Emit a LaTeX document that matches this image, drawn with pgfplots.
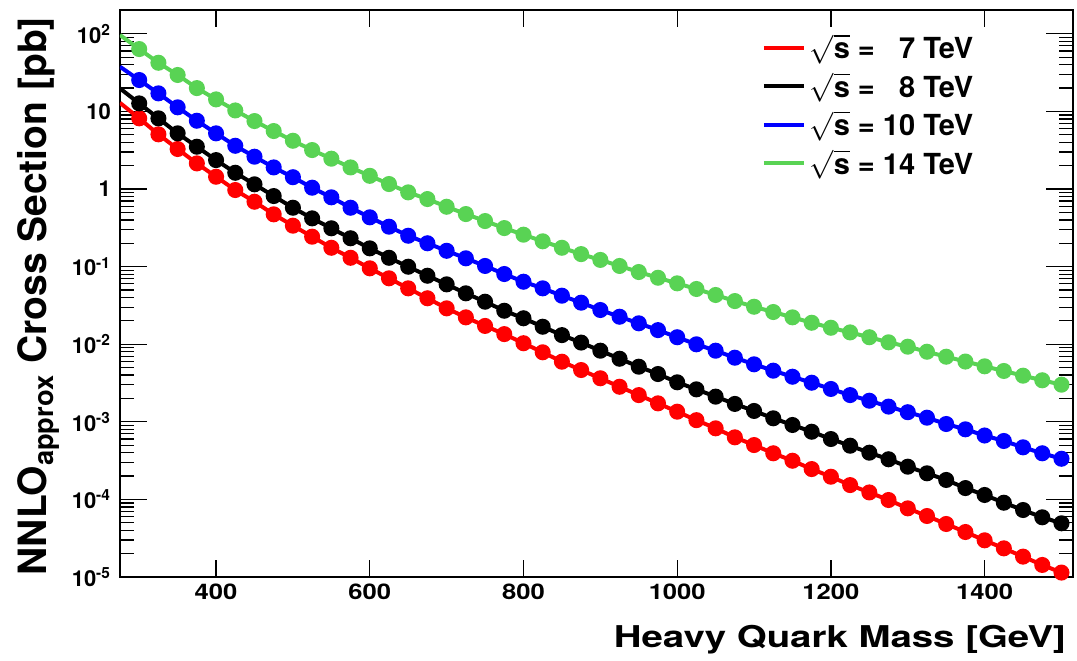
\documentclass[border=0pt]{standalone}
\usepackage{fontspec}
\setmainfont{TeX Gyre Heros}
\usepackage{graphicx}
\usepackage{pgfplots}
\usepackage{pgfplotstable}
\pgfplotsset{compat=1.18}

\definecolor{rootgreen}{RGB}{89,211,84}

% heavy quark mass [GeV], cross section [pb] at 7, 8, 10, 14 TeV
\pgfplotstableread{
m     s7        s8        s10       s14
275   12.9      19.8      37.7      96.6
300   8.15      12.7      25.4      63.7
325   5.07      8.15      17.1      42.4
350   3.28      5.22      11.3      29.5
375   2.14      3.51      7.59      20.0
400   1.44      2.36      5.22      14.3
425   0.971     1.62      3.61      10.3
450   0.686     1.15      2.61      7.52
475   0.472     0.812     1.90      5.59
500   0.337     0.574     1.42      4.19
525   0.243     0.419     1.04      3.18
550   0.175     0.312     0.782     2.46
575   0.130     0.232     0.574     1.90
600   0.0951    0.172     0.432     1.48
625   0.0707    0.130     0.327     1.16
650   0.0525    0.0997    0.250     0.906
675   0.0391    0.0763    0.200     0.743
700   0.0290    0.0591    0.160     0.591
725   0.0222    0.0453    0.128     0.476
750   0.0172    0.0353    0.102     0.387
775   0.0135    0.0270    0.0803    0.314
800   0.0103    0.0216    0.0639    0.258
825   0.00787   0.0168    0.0525    0.212
850   0.00595   0.0131    0.0422    0.175
875   0.00465   0.0105    0.0343    0.145
900   0.00364   0.00825   0.0276    0.122
925   0.00283   0.00650   0.0226    0.102
950   0.00221   0.00513   0.0186    0.0852
975   0.00173   0.00413   0.0152    0.0719
1000  0.00135   0.00323   0.0123    0.0609
1025  0.00105   0.00262   0.00997   0.0515
1050  0.000824  0.00211   0.00825   0.0431
1075  0.000631  0.00170   0.00670   0.0360
1100  0.000502  0.00138   0.00551   0.0304
1125  0.000393  0.00111   0.00456   0.0260
1150  0.000315  0.000910  0.00381   0.0222
1175  0.000246  0.000745  0.00319   0.0189
1200  0.000196  0.000600  0.00265   0.0163
1225  0.000153  0.000492  0.00221   0.0142
1250  0.000123  0.000400  0.00187   0.0123
1275  9.82e-5   0.000329  0.00157   0.01058
1300  7.67e-5   0.000264  0.00133   0.00929
1325  6.11e-5   0.000217  0.00113   0.00800
1350  4.82e-5   0.000178  0.000937  0.00690
1375  3.80e-5   0.000140  0.000800  0.00598
1400  2.97e-5   0.000114  0.000666  0.00519
1425  2.34e-5   9.06e-5   0.000566  0.00452
1450  1.83e-5   7.30e-5   0.000469  0.00393
1475  1.43e-5   5.88e-5   0.000393  0.00343
1500  1.14e-5   4.92e-5   0.000334  0.00301
}\xsec

\begin{document}
\begin{tikzpicture}
\begin{axis}[
  ymode=log,
  scale only axis,
  width=476.5pt, height=283.5pt,
  xmin=275, xmax=1515,
  ymin=1e-5, ymax=203,
  axis line style={line width=0.8pt},
  tick align=inside,
  tick style={black, line width=0.6pt},
  major tick length=13.5pt,
  minor tick length=7pt,
  xtick style={/pgfplots/major tick length=8.5pt},
  xtick={400,600,800,1000,1200,1400},
  xticklabels={\scalebox{1.19}[1]{400},\scalebox{1.19}[1]{600},\scalebox{1.19}[1]{800},
    \scalebox{1.19}[1]{1000},\scalebox{1.19}[1]{1200},\scalebox{1.19}[1]{1400}},
  minor xtick={},
  ytick={1e-5,1e-4,1e-3,1e-2,1e-1,1,10,100},
  yticklabels={10\textsuperscript{-5},10\textsuperscript{-4},10\textsuperscript{-3},
    10\textsuperscript{-2},10\textsuperscript{-1},1,10,10\textsuperscript{2}},
  xticklabel style={font=\fontsize{10.75}{12}\selectfont\bfseries},
  yticklabel style={font=\fontsize{11}{12}\selectfont\bfseries, xshift=-1pt},
  xlabel={\scalebox{1.28}[1]{Heavy Quark Mass [GeV]}},
  xlabel style={font=\fontsize{15}{18}\selectfont\bfseries,
    at={([yshift=-35.5pt]rel axis cs:1,0)}, anchor=base east},
  ylabel={NNLO\textsubscript{approx} Cross Section [pb]},
  ylabel style={font=\fontsize{19.5}{23}\selectfont\bfseries,
    at={([xshift=-36.5pt]rel axis cs:0,1)}, anchor=base east},
  legend style={at={(rel axis cs:0.673,0.965)}, anchor=north west,
    draw=none, fill=none, font=\fontsize{14.5}{17}\selectfont\bfseries,
    row sep=1.5pt, inner sep=0pt},
  legend cell align=left,
  legend image code/.code={\draw[#1, mark=none] (0pt,0pt) -- (20pt,0pt);},
  every axis plot/.append style={line width=2pt, mark=*, mark size=3pt,
    mark phase=2, mark options={line width=0pt}},
]
\addplot[red, mark options={fill=red}] table[x=m, y=s7] {\xsec};
\addlegendentry{$\sqrt{\hbox{s}}$ = \phantom{1}7 TeV}
\addplot[black, mark options={fill=black}] table[x=m, y=s8] {\xsec};
\addlegendentry{$\sqrt{\hbox{s}}$ = \phantom{1}8 TeV}
\addplot[blue, mark options={fill=blue}] table[x=m, y=s10] {\xsec};
\addlegendentry{$\sqrt{\hbox{s}}$ = 10 TeV}
\addplot[rootgreen, mark options={fill=rootgreen}] table[x=m, y=s14] {\xsec};
\addlegendentry{$\sqrt{\hbox{s}}$ = 14 TeV}
\end{axis}
\pgfresetboundingbox
\path[use as bounding box] ([shift={(-60pt,-42pt)}]current axis.south west)
  rectangle ([shift={(2pt,5pt)}]current axis.north east);
\end{tikzpicture}
\end{document}
